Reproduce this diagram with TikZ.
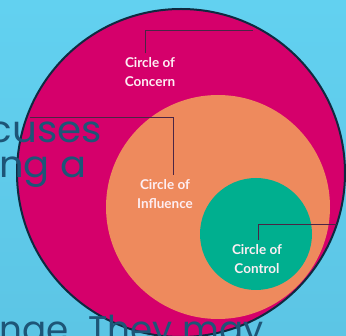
\documentclass[tikz,border=0pt]{standalone}
\usepackage{fontspec}
\setmainfont{Lato}
\newfontfamily\slidefont{Poppins}
\definecolor{bgtop}{HTML}{62D1F0}
\definecolor{bgbot}{HTML}{5CC5E5}
\definecolor{concern}{HTML}{D5006B}
\definecolor{influence}{HTML}{EE8A5D}
\definecolor{control}{HTML}{00AF8F}
\definecolor{rim}{HTML}{0E2A40}
\definecolor{leader}{HTML}{4A2545}
\definecolor{slidetext}{HTML}{1D5577}
\definecolor{labeltext}{HTML}{FDEEF3}
\tikzset{
  ringlabel/.style={align=center,inner sep=0pt,text=labeltext,font=\bfseries\fontsize{13.5}{18.5}\selectfont},
  leaderline/.style={draw=leader,line width=0.9pt},
  slideline/.style={inner sep=0pt,text=slidetext,font=\slidefont\fontsize{37}{40}\selectfont}
}
\begin{document}
\begin{tikzpicture}[x=1pt,y=-1pt]
\useasboundingbox (0,0) rectangle (346,336);
\begin{scope}
\clip (0,0) rectangle (346,336);
\shade[top color=bgtop,bottom color=bgbot] (0,0) rectangle (346,336);
\fill[concern,draw=rim,line width=2pt] (181,173) circle (164);
\fill[influence] (218,207) circle (112);
\fill[control] (256,234) circle (56);
\node[ringlabel] (concern) at (150,72) {Circle of\\Concern};
\node[ringlabel] (influence) at (165,194) {Circle of\\Influence};
\node[ringlabel] (control) at (257,259) {Circle of\\Control};
\coordinate (cA) at (145,30);
\coordinate (cB) at (253,30);
\coordinate (iA) at (30,117);
\coordinate (iB) at (173,117);
\coordinate (kA) at (258,224);
\coordinate (kB) at (337,224);
\draw[leaderline] ([yshift=4pt]concern.north -| cA) -- (cA) -- (cB);
\draw[leaderline] (iA) -- (iB) -- ([yshift=4pt]influence.north -| iB);
\draw[leaderline] ([yshift=4pt]control.north -| kA) -- (kA) -- (kB);
\node[slideline,anchor=base east,xscale=1.05] (l1) at (102,143) {ocuses};
\node[slideline,anchor=base west,xscale=1.04] (l2) at (-1,178) {ng a};
\node[slideline,anchor=base west,xscale=0.965] (l3) at (-1,343) {nge. They may};
\end{scope}
\end{tikzpicture}
\end{document}
